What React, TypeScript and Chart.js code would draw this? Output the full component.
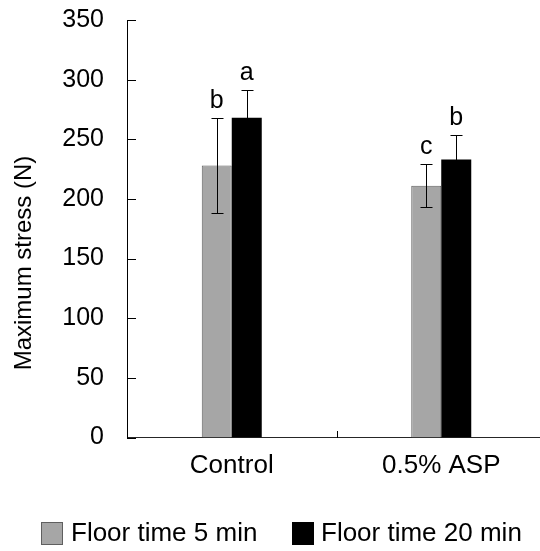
import React, { useEffect, useRef } from 'react';
import { Chart, registerables } from 'chart.js';

Chart.register(...registerables);

const FONT = "'Liberation Sans', Arial, Helvetica, sans-serif";

const categories = ['Control', '0.5% ASP'];
const seriesNames = ['Floor time 5 min', 'Floor time 20 min'];
const floor5 = [228, 211];
const floor20 = [268, 233];
const err5 = [40, 18];
const err20 = [23, 21];
const letters5 = ['b', 'c'];
const letters20 = ['a', 'b'];
const yMin = 0;
const yMax = 350;
const yStep = 50;
const yTitle = 'Maximum stress (N)';

const GRAY = '#a6a6a6';
const GRAY_EDGE = '#5f5f5f';
const BLACK = '#000000';

export default function App() {
  const ref = useRef<HTMLCanvasElement>(null);

  useEffect(() => {
    const canvas = ref.current!;
    const overlay = {
      id: 'overlay',
      afterDatasetsDraw(chart: any) {
        const ctx = chart.ctx;
        const y = chart.scales.y;
        const groups: [number[], number[], string[]][] = [
          [floor5, err5, letters5],
          [floor20, err20, letters20],
        ];
        ctx.save();
        ctx.strokeStyle = '#000';
        ctx.lineWidth = 1;
        ctx.fillStyle = '#000';
        ctx.font = `25px ${FONT}`;
        ctx.textAlign = 'center';
        ctx.textBaseline = 'alphabetic';
        groups.forEach(([vals, errs, lets], di) => {
          const meta = chart.getDatasetMeta(di);
          meta.data.forEach((bar: any, i: number) => {
            const x = Math.round(bar.x) + 0.5;
            const yt = Math.round(y.getPixelForValue(vals[i] + errs[i])) + 0.5;
            const yb = Math.round(y.getPixelForValue(vals[i] - errs[i])) + 0.5;
            ctx.beginPath();
            ctx.moveTo(x, yb);
            ctx.lineTo(x, yt);
            ctx.moveTo(x - 6, yt);
            ctx.lineTo(x + 6, yt);
            ctx.moveTo(x - 6, yb);
            ctx.lineTo(x + 6, yb);
            ctx.stroke();
            ctx.fillText(lets[i], bar.x, yt - 11);
          });
        });
        ctx.restore();
      },
      afterDraw(chart: any) {
        const ctx = chart.ctx;
        const y = chart.scales.y;
        const x = chart.scales.x;
        const area = chart.chartArea;
        ctx.save();
        ctx.strokeStyle = '#000';
        ctx.lineWidth = 1;
        ctx.beginPath();
        y.ticks.forEach((_t: any, i: number) => {
          const py = Math.round(y.getPixelForTick(i)) + 0.5;
          const lx = Math.round(area.left);
          ctx.moveTo(lx, py);
          ctx.lineTo(lx + 9, py);
        });
        const bx = Math.round((x.getPixelForValue(0) + x.getPixelForValue(1)) / 2) + 0.5;
        const by = Math.round(area.bottom);
        ctx.moveTo(bx, by);
        ctx.lineTo(bx, by - 7);
        ctx.stroke();

        // legend
        const items = [
          { text: seriesNames[0], fill: GRAY, edge: GRAY_EDGE, bx: 41, tx: 71 },
          { text: seriesNames[1], fill: BLACK, edge: BLACK, bx: 292, tx: 321 },
        ];
        ctx.font = `26px ${FONT}`;
        ctx.textAlign = 'left';
        ctx.textBaseline = 'middle';
        items.forEach((it) => {
          ctx.fillStyle = it.fill;
          ctx.fillRect(it.bx, 522, 22, 23);
          ctx.strokeStyle = it.edge;
          ctx.strokeRect(it.bx + 0.5, 522.5, 21, 22);
          ctx.fillStyle = '#000';
          ctx.fillText(it.text, it.tx, 534);
        });

        ctx.translate(24, 263);
        ctx.rotate(-Math.PI / 2);
        ctx.fillStyle = '#000';
        ctx.font = `24px ${FONT}`;
        ctx.textAlign = 'center';
        ctx.textBaseline = 'middle';
        ctx.fillText(yTitle, 0, 0);
        ctx.restore();
      },
    };

    const chart = new Chart(canvas, {
      type: 'bar',
      data: {
        labels: categories,
        datasets: [
          {
            label: seriesNames[0],
            data: floor5,
            backgroundColor: GRAY,
            borderColor: GRAY_EDGE,
            borderWidth: 1,
            categoryPercentage: 0.2864,
            barPercentage: 1,
          },
          {
            label: seriesNames[1],
            data: floor20,
            backgroundColor: BLACK,
            borderColor: BLACK,
            borderWidth: 0,
            categoryPercentage: 0.2864,
            barPercentage: 1,
          },
        ],
      },
      options: {
        responsive: false,
        animation: false,
        devicePixelRatio: 1,
        layout: { padding: { left: 0, right: 14, top: 20, bottom: 67 } },
        plugins: {
          tooltip: { enabled: false },
          legend: { display: false },
        },
        scales: {
          x: {
            grid: { display: false, drawTicks: false },
            border: { display: true, color: '#262626', width: 1 },
            ticks: { color: '#000', padding: 13, font: { family: FONT, size: 26 } },
            afterFit: (s: any) => {
              s.height = 46.5;
              s.paddingLeft = 0;
              s.paddingRight = 0;
            },
          },
          y: {
            min: yMin,
            max: yMax,
            grid: { display: false, drawTicks: false },
            border: { display: true, color: '#000', width: 1 },
            ticks: { stepSize: yStep, color: '#000', padding: 23, font: { family: FONT, size: 25 } },
            afterFit: (s: any) => {
              s.width = 127;
              s.paddingTop = 0;
              s.paddingBottom = 0;
            },
          },
        },
      },
      plugins: [overlay],
    });
    return () => chart.destroy();
  }, []);

  return (
    <div
      style={{
        position: 'fixed',
        left: 0,
        top: 0,
        width: 540,
        height: 551,
        overflow: 'hidden',
        background: '#fff',
      }}
    >
      <canvas ref={ref} width={560} height={551} style={{ display: 'block' }} />
    </div>
  );
}
